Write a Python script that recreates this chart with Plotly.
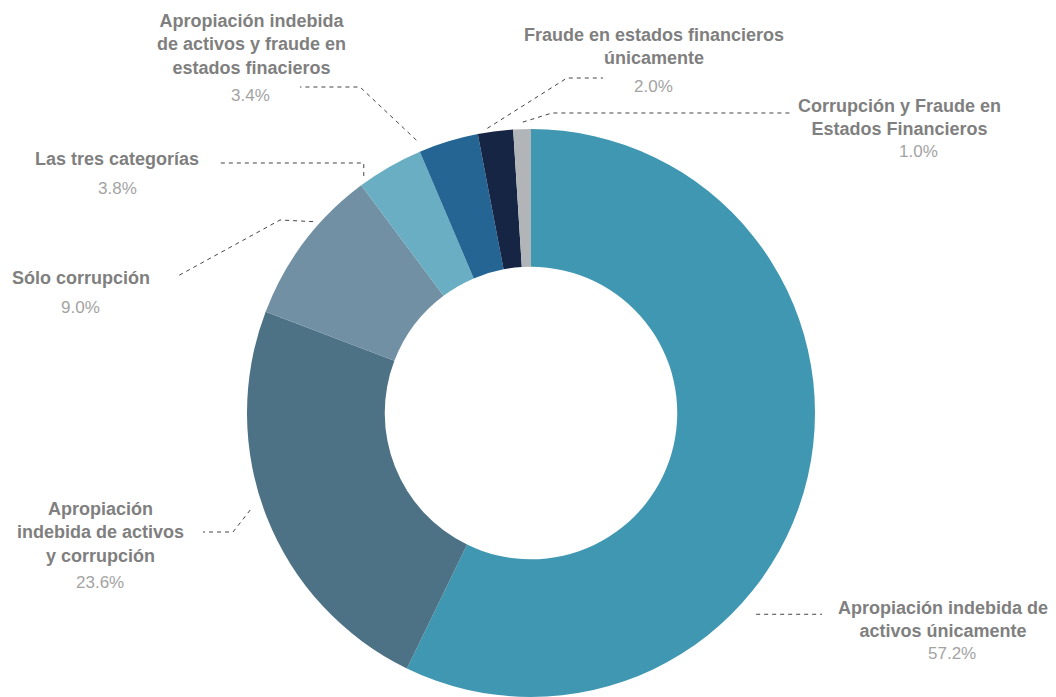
import math
import plotly.graph_objects as go

# ---- data ----
labels = [
    "Apropiación indebida de activos únicamente",
    "Apropiación indebida de activos y corrupción",
    "Sólo corrupción",
    "Las tres categorías",
    "Apropiación indebida de activos y fraude en estados finacieros",
    "Fraude en estados financieros únicamente",
    "Corrupción y Fraude en Estados Financieros",
]
values = [57.2, 23.6, 9.0, 3.8, 3.4, 2.0, 1.0]
label_text = [
    "Apropiación indebida de<br>activos únicamente",
    "Apropiación<br>indebida de activos<br>y corrupción",
    "Sólo corrupción",
    "Las tres categorías",
    "Apropiación indebida<br>de activos y fraude en<br>estados finacieros",
    "Fraude en estados financieros<br>únicamente",
    "Corrupción y Fraude en<br>Estados Financieros",
]
colors = ["#4097B1", "#4D7185", "#7190A4", "#69AEC3", "#256593", "#162544", "#B1B5B7"]

# ---- layout geometry (pixels) ----
W, H = 1056, 697
CX, CY, R = 531, 413, 284

# label placement (layout): name centre, percent centre
name_pos = [(943, 619), (100, 532), (81, 278), (117, 159), (251, 44), (654, 46), (899, 117)]
pct_pos = [(952, 653), (100, 582), (80, 307), (117, 188), (250, 95), (653, 86), (918, 151)]
# leader line anchor: fraction within slice, radius, then elbow/end points
anchor_frac = [0.64, 0.53, 0.63, 0.11, 0.02, 0.29, 0.55]
anchor_rad = [302, 297, 290, 290, 296, 288, 291]
leader_rest = [
    [(822, None)],
    [(233, 532), (203, 532)],
    [(280, 220), (176, 277)],
    [(None, 163), (218, 163)],
    [(360, 87), (300, 87)],
    [(567, 78), (603, 78)],
    [(552, 113), (792, 113)],
]

fig = go.Figure()

fig.add_trace(go.Pie(
    labels=labels,
    values=values,
    sort=False,
    direction="clockwise",
    rotation=0,
    hole=0.515,
    marker=dict(colors=colors, line=dict(width=0)),
    textinfo="none",
    hoverinfo="label+percent",
    showlegend=False,
    domain=dict(x=[(CX - R) / W, (CX + R) / W], y=[0, 2 * (H - CY) / H]),
))

total = sum(values)
cum = 0.0
for i, v in enumerate(values):
    a0 = cum / total * 360
    a1 = (cum + v) / total * 360
    cum += v
    th = math.radians(a0 + anchor_frac[i] * (a1 - a0))
    sx = CX + anchor_rad[i] * math.sin(th)
    sy = CY - anchor_rad[i] * math.cos(th)
    xs, ys = [sx], [sy]
    for (px, py) in leader_rest[i]:
        xs.append(sx if px is None else px)
        ys.append(sy if py is None else py)
    fig.add_trace(go.Scatter(
        x=xs, y=ys, mode="lines",
        line=dict(color="#444444", width=1, dash="4px,4px"),
        hoverinfo="skip", showlegend=False,
    ))

    fig.add_annotation(
        x=name_pos[i][0], y=name_pos[i][1], xref="x", yref="y",
        text="<b>" + label_text[i] + "</b>", showarrow=False,
        xanchor="center", yanchor="middle", align="center",
        font=dict(family="Liberation Sans, Arial, sans-serif", size=18, color="#7f7f7f"),
    )
    fig.add_annotation(
        x=pct_pos[i][0], y=pct_pos[i][1], xref="x", yref="y",
        text=f"{v:.1f}%", showarrow=False,
        xanchor="center", yanchor="middle",
        font=dict(family="Liberation Sans, Arial, sans-serif", size=17, color="#a3a3a3"),
    )

fig.update_layout(
    width=W, height=H,
    margin=dict(l=0, r=0, t=0, b=0),
    paper_bgcolor="white", plot_bgcolor="rgba(0,0,0,0)",
    xaxis=dict(range=[0, W], visible=False, fixedrange=True),
    yaxis=dict(range=[H, 0], visible=False, fixedrange=True),
)

fig.write_html("out.html")
